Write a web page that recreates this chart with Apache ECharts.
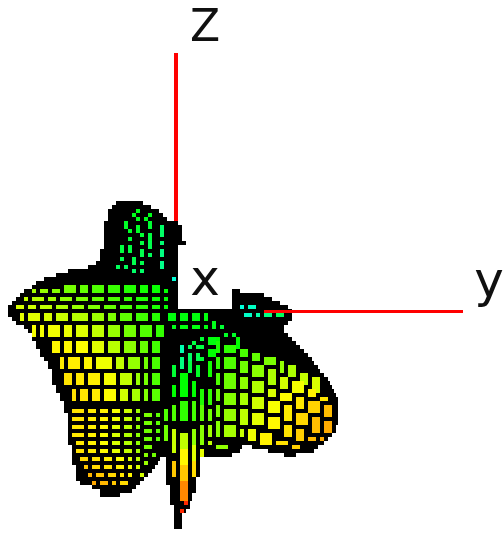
<!DOCTYPE html>
<html>
<head>
<meta charset="utf-8">
<style>html,body{margin:0;padding:0;background:#fff}#chart{width:503px;height:536px}</style>
<script src="https://cdn.jsdelivr.net/npm/echarts@6/dist/echarts.min.js"></script>
</head>
<body>
<div id="chart"></div>
<script>
// black silhouette, one row per low-res scanline: [y, from, to]
var outlineRows = [
	[201,116,143],[205,112,151],[209,108,159],[213,108,163],[217,108,167],[221,104,178],
	[225,104,182],[229,104,182],[233,104,182],[237,104,182],[241,104,186],[245,104,178],
	[249,100,178],[253,100,178],[257,100,178],[261,96,178],[265,88,178],[269,68,178],
	[273,56,178],[277,44,178],[281,36,178],[285,32,178],
	[289,24,178],[289,232,240],[293,20,178],[293,232,264],[297,16,178],[297,232,272],
	[301,12,178],[301,232,280],[305,8,178],[305,232,288],
	[309,8,292],[313,8,292],[317,12,292],[321,16,288],[325,24,284],[329,28,284],
	[333,32,288],[337,32,292],[341,36,296],[345,36,300],[349,40,304],[353,40,308],
	[357,44,312],[361,48,314],[365,48,318],[369,52,320],[373,52,324],[377,52,328],
	[381,52,330],[385,56,332],[389,56,334],[393,60,336],[397,60,338],[401,64,338],
	[405,64,338],[409,64,338],[413,68,338],[417,68,338],[421,68,338],[425,68,336],
	[429,68,336],[433,68,332],[437,68,328],[441,68,324],
	[445,72,242],[445,252,318],[449,72,240],[449,268,314],[453,72,232],[453,284,296],
	[457,72,160],[457,166,200],[461,72,158],[461,166,200],[465,76,155],[465,166,200],
	[469,76,152],[469,166,200],[473,76,148],[473,166,200],[477,76,144],[477,166,196],
	[481,80,140],[481,166,196],[485,92,136],[485,170,196],[489,100,132],[489,170,196],
	[493,100,120],[493,170,192],[497,170,192],[501,170,190],[505,174,190],[509,174,186],
	[513,174,182],[517,174,182],[521,174,182],[525,174,182]
];

// surface patches: rows of [x, y, level], level runs 0 (cyan) .. 8 (red)
var leftLobe = [
	[[36,286,3.6],[44,286,3.5],[54,285,3.4],[64,285,3.2],[78,284,3],[92,283,2.8],[108,282,2.6],[124,282,2.4],[138,283,2.2],[150,284,2.1],[160,285,2],[170,286,2]],
	[[24,295,4.2],[34,295,4],[46,295,3.8],[60,295,3.5],[74,294,3.3],[90,293,3],[106,293,2.8],[122,293,2.5],[136,294,2.3],[150,295,2.2],[162,295,2],[170,295,2]],
	[[16,302,4.4],[28,302,4.3],[42,302,4.1],[56,302,3.9],[71,302,3.6],[88,302,3.4],[104,302,3],[120,302,2.8],[135,302,2.5],[150,302,2.3],[162,302,2.1],[170,302,2]],
	[[14,311,4.6],[22,311,4.6],[36,311,4.4],[50,311,4.3],[66,311,4],[84,311,3.7],[100,311,3.4],[117,311,3],[133,311,2.7],[148,311,2.5],[162,311,2.2],[166,311,2]],
	[[20,324,4.8],[30,324,4.8],[46,324,4.7],[60,324,4.6],[76,324,4.4],[92,324,4.2],[108,324,3.7],[122,324,3.3],[137,324,2.9],[152,324,2.6],[164,324,2.3],[166,324,2.1]],
	[[36,339,5],[42,339,5],[48,339,5],[60,339,5],[75,339,5],[91,339,4.7],[106,339,4.2],[122,339,3.6],[137,339,3.1],[153,339,2.8],[164,339,2.4],[166,339,2.1]],
	[[44,355,5.4],[48,355,5.4],[54,355,5.4],[62,355,5.4],[76,355,5.3],[90,355,5],[106,355,4.6],[120,355,4],[136,355,3.4],[150,355,3],[162,355,2.5],[166,355,2.2]],
	[[54,371,5.7],[58,371,5.7],[60,371,5.7],[72,371,5.6],[86,371,5.4],[100,371,5.2],[120,371,4.4],[134,371,3.8],[144,371,3.4],[152,371,3],[162,371,2.5],[166,371,2.2]],
	[[58,386,5.8],[60,386,5.8],[64,386,5.8],[76,386,5.7],[88,386,5.6],[102,386,5.3],[118,386,4.7],[132,386,4],[142,386,3.6],[150,386,3.1],[162,386,2.6],[166,386,2.3]],
	[[68,401,5.8],[70,401,5.8],[72,401,5.8],[80,401,5.7],[92,401,5.6],[104,401,5.4],[118,401,4.8],[130,401,4.2],[140,401,3.7],[148,401,3.2],[158,401,2.8],[166,401,2.4]]
];
var lowerLobe = [
	[[70,408,5.8],[84,407,5.7],[96,406,5.5],[108,406,5.2],[120,407,4.7],[132,408,4.1],[142,409,3.6],[152,411,3.1],[160,414,2.8]],
	[[70,416,5.8],[84,415,5.6],[96,414,5.4],[108,414,5.1],[120,415,4.6],[132,416,4],[142,417,3.5],[152,419,3.1],[160,422,2.8]],
	[[70,424,5.8],[84,423,5.5],[96,422,5.3],[108,422,5],[120,423,4.5],[132,424,3.9],[142,425,3.4],[152,427,3],[160,430,2.8]],
	[[70,432,5.7],[84,431,5.5],[96,430,5.2],[108,430,4.8],[120,431,4.3],[132,432,3.8],[142,433,3.3],[152,435,3],[160,438,2.8]],
	[[72,440,5.7],[84,439,5.4],[96,438,5.1],[108,438,4.7],[120,439,4.2],[132,440,3.7],[142,441,3.3],[152,443,3],[160,446,2.9]],
	[[74,448,5.8],[86,447,5.5],[98,446,5.2],[110,446,4.8],[122,447,4.3],[134,448,3.9],[142,449,3.5],[152,451,3.2],[158,454,3]],
	[[76,456,6],[88,455,5.7],[100,454,5.4],[112,454,5],[124,455,4.6],[134,456,4.2],[142,457,3.8],[150,459,3.4],[154,461,3.2]],
	[[78,464,6.3],[90,463,6],[102,462,5.7],[114,462,5.3],[124,463,4.9],[134,464,4.5],[142,465,4.1],[148,466,3.7],[152,468,3.4]],
	[[82,472,6.6],[92,471,6.3],[104,470,6],[116,470,5.7],[126,471,5.3],[134,472,4.9],[140,472,4.5],[146,473,4.1],[148,474,3.8]],
	[[86,480,6.9],[96,479,6.6],[106,478,6.3],[118,478,6],[128,479,5.6],[134,479,5.2],[138,479,4.8],[142,478,4.4],[144,478,4.2]],
	[[96,488,7],[102,487,6.9],[110,486,6.6],[120,486,6.3],[128,486,6],[132,486,5.6],[134,484,5.2],[138,482,4.8],[140,480,4.5]]
];
var rightLobe = [
	[[214,338,2.1],[222,340,2.2],[236,344,2.4],[250,348,2.7],[262,352,2.9],[274,356,3.2],[284,361,3.4],[294,366,3.6],[304,372,3.8],[314,380,4]],
	[[214,352,2.3],[222,354,2.5],[236,358,2.8],[250,362,3.1],[264,366,3.4],[278,370,3.8],[290,376,4.2],[302,382,4.6],[314,390,5],[326,398,5.2]],
	[[214,368,2.5],[222,370,2.8],[236,374,3.2],[250,378,3.6],[264,382,4],[278,388,4.6],[292,392,5.1],[306,398,5.6],[320,402,6],[334,404,6.4]],
	[[214,384,2.8],[222,388,3.1],[236,390,3.5],[250,394,4],[264,396,4.5],[280,402,5],[294,406,5.6],[308,414,6.2],[322,416,6.6],[334,420,6.9]],
	[[214,400,3.1],[222,404,3.4],[236,406,3.8],[250,408,4.3],[264,412,4.8],[280,418,5.3],[294,424,5.9],[308,432,6.4],[320,434,6.8],[330,434,7]],
	[[214,416,3.2],[222,420,3.5],[236,424,4],[250,426,4.5],[264,430,5],[280,434,5.6],[294,440,6],[306,444,6.4],[316,442,6.6],[322,440,6.8]],
	[[214,436,3.5],[222,438,3.8],[236,438,4.2],[244,440,4.5],[254,444,5.2],[270,446,5.6],[284,450,6],[296,448,6.3],[306,446,6.5],[316,444,6.7]]
];
var backLobe = [
	[[236,301,0],[246,303,0.1],[258,305,0.4],[268,305,0.8],[278,306,1.1]],
	[[238,309,0],[248,310,0.2],[258,312,0.5],[270,312,1],[282,312,1.3]],
	[[244,319,0.2],[256,319,0.6],[268,319,1],[278,319,1.3],[290,319,1.5]]
];
var meshes = [backLobe, leftLobe, lowerLobe, rightLobe];

// sparse cells where the mesh folds, read one by one: [x0, y0, x1, y1, level]
var upperLobeCells = [
	[135,208,139,211,1.8],[147,212,151,215,1.8],[132,212,136,218,1.8],[120,215,124,218,1.7],[151,215,155,218,1.6],
	[135,218,139,222,1.8],[143,218,147,222,1.8],[124,222,128,229,1.7],[135,225,139,232,1.7],[147,222,151,229,1.6],
	[128,229,132,232,1.7],[159,225,163,236,1.2],[139,232,143,236,1.6],[147,232,151,239,1.5],[128,236,132,242,1.6],
	[139,239,143,246,1.5],[159,239,163,246,1.1],[116,243,120,246,1.5],[120,246,124,252,1.5],[128,246,132,252,1.5],
	[147,242,151,248,1.4],[139,250,143,257,1.4],[147,252,151,257,1.3],[159,250,163,257,1],[120,257,124,259,1.4],
	[132,257,136,263,1.4],[139,260,143,263,1.4],[159,260,163,267,0.9],[116,264,120,267,1.3],[124,264,128,267,1.3],
	[132,267,136,271,1.2],[139,267,143,271,1.2],[128,271,132,274,1.1],[143,271,147,274,1.1],[159,271,163,274,0.4],
	[172,278,174,281,0.1]
];
var centerCells = [
	[167,313,174,320,1.9],[178,313,186,320,1.9],[190,313,198,320,1.9],[202,313,206,320,1.9],
	[171,324,174,327,1.8],[178,324,186,327,1.9],[190,324,198,327,1.9],[202,324,206,327,1.9],[210,320,214,327,1.8],[221,324,225,327,1.6],
	[171,331,174,334,1.7],[190,331,194,334,1.8],[198,331,206,334,1.8],[210,331,214,334,1.8],[217,331,221,334,1.7],[225,331,229,338,1.7],
	[233,334,237,338,1.7],[198,338,202,341,1.6],[206,338,214,345,1.9],[217,338,221,345,2],[237,338,241,348,2],[190,341,194,345,1.5],
	[178,345,182,352,0.5],[186,345,190,348,1.3],[194,345,202,348,1.5],[186,352,190,360,1.2],[194,352,198,360,1.4],[198,357,202,360,1.6],[206,348,214,355,2],
	[178,355,182,368,1],[171,359,174,362,1.3],[171,365,174,377,1.6],[186,362,190,372,1.5],[194,363,198,377,1.7],[206,362,213,377,2.2],
	[178,373,186,397,2],[190,380,194,397,2],[171,383,174,398,2],[198,387,202,405,2.3],[206,390,213,405,2.5],
	[178,400,186,420,2.5],[190,400,194,422,2.7],[171,405,174,420,2.8],[163,407,167,420,2.8],[198,403,202,422,3],[206,407,213,422,3.2],
	[178,433,186,448,4.2],[178,448,186,463,5.2],[190,427,194,445,3.6],[190,445,194,460,4.6],[171,428,174,453,4.3],[163,426,167,440,3.2],[163,447,167,450,3.8],
	[198,426,202,443,3.5],[198,447,202,457,4.7],[206,426,210,436,3.8],[206,440,210,444,4.2],[214,426,220,432,3.6],[222,429,229,433,3.6],[217,443,229,447,3.6],
	[178,465,186,480,6.3],[178,480,186,500,7.2],[190,460,194,475,5.9],[171,460,174,475,6.3],
	[182,500,186,503,8],[178,507,182,513,8]
];

var levelColors = ['#00ffe0', '#00ff80', '#00ff00', '#60ff00', '#b0ff00', '#ffff00', '#ffd800', '#ffa000', '#ff2800'];

var zAxisLine = [[176, 53], [176, 222]];
var yAxisLine = [[264, 311.5], [463, 311.5]];

var axisNames = ['Z', 'x', 'y'];
var axisNameX = [205, 205, 489];
var axisNameY = [8, 257, 259];
var axisNameSize = [44, 50, 50];

// one cell per mesh quad, shrunk so the black mesh lines show between them
var cells = upperLobeCells.concat(centerCells);
meshes.forEach(function(mesh) {
	for (var r = 0; r < mesh.length - 1; r++) {
		for (var c = 0; c < mesh[r].length - 1; c++) {
			var a = mesh[r][c], b = mesh[r][c + 1], d = mesh[r + 1][c], e = mesh[r + 1][c + 1];
			cells.push([
				(a[0] + d[0]) / 2 + 2, (a[1] + b[1]) / 2 + 2,
				(b[0] + e[0]) / 2 - 2, (d[1] + e[1]) / 2 - 2,
				(a[2] + b[2] + d[2] + e[2]) / 4
			]);
		}
	}
});

// the reference is a low-res picture blown up, so keep edges on its 4px blocks
function snapX(v) { return Math.round(v / 4) * 4; }
function snapY(v) { return Math.round((v - 1) / 4) * 4 + 1; }

function renderOutline(params, api) {
	var p0 = api.coord([api.value(1), api.value(0)]);
	var p1 = api.coord([api.value(2), api.value(0) + 4]);
	return {type: 'rect', shape: {x: p0[0], y: p0[1], width: p1[0] - p0[0], height: p1[1] - p0[1]}, style: {fill: '#000'}};
}

function renderCell(params, api) {
	var p0 = api.coord([api.value(0), api.value(1)]);
	var p1 = api.coord([api.value(2), api.value(3)]);
	var x0 = snapX(p0[0]), y0 = snapY(p0[1]), x1 = snapX(p1[0]), y1 = snapY(p1[1]);
	if (x1 <= x0 || y1 <= y0) return;
	return {
		type: 'rect',
		shape: {x: x0, y: y0, width: x1 - x0, height: y1 - y0},
		style: {fill: echarts.color.lerp(api.value(4) / 8, levelColors)}
	};
}

function renderName(params, api) {
	var i = params.dataIndex;
	var p = api.coord([axisNameX[i], axisNameY[i]]);
	return {
		type: 'text',
		x: p[0],
		y: p[1],
		style: {
			text: axisNames[i],
			fill: '#101010',
			font: axisNameSize[i] + 'px "DejaVu Sans"',
			textAlign: 'center'
		}
	};
}

var mychart = echarts.init(document.getElementById('chart'), null, {renderer: 'canvas'});
mychart.setOption({
	animation: false,
	backgroundColor: '#fff',
	grid: {left: 0, right: 0, top: 0, bottom: 0},
	xAxis: {type: 'value', min: 0, max: 503, show: false},
	yAxis: {type: 'value', min: 0, max: 536, inverse: true, show: false},
	series: [
		{type: 'line', data: zAxisLine, symbol: 'none', silent: true, z: 1, lineStyle: {color: '#ff0000', width: 4}},
		{type: 'custom', renderItem: renderOutline, data: outlineRows, clip: false, silent: true, z: 2},
		{type: 'custom', renderItem: renderCell, data: cells, clip: false, silent: true, z: 3},
		{type: 'line', data: yAxisLine, symbol: 'none', silent: true, z: 4, lineStyle: {color: '#ff0000', width: 3}},
		{type: 'custom', renderItem: renderName, data: axisNames.map(function(n, i) { return [axisNameX[i], axisNameY[i]]; }), clip: false, silent: true, z: 5}
	]
});
</script>
</body>
</html>
